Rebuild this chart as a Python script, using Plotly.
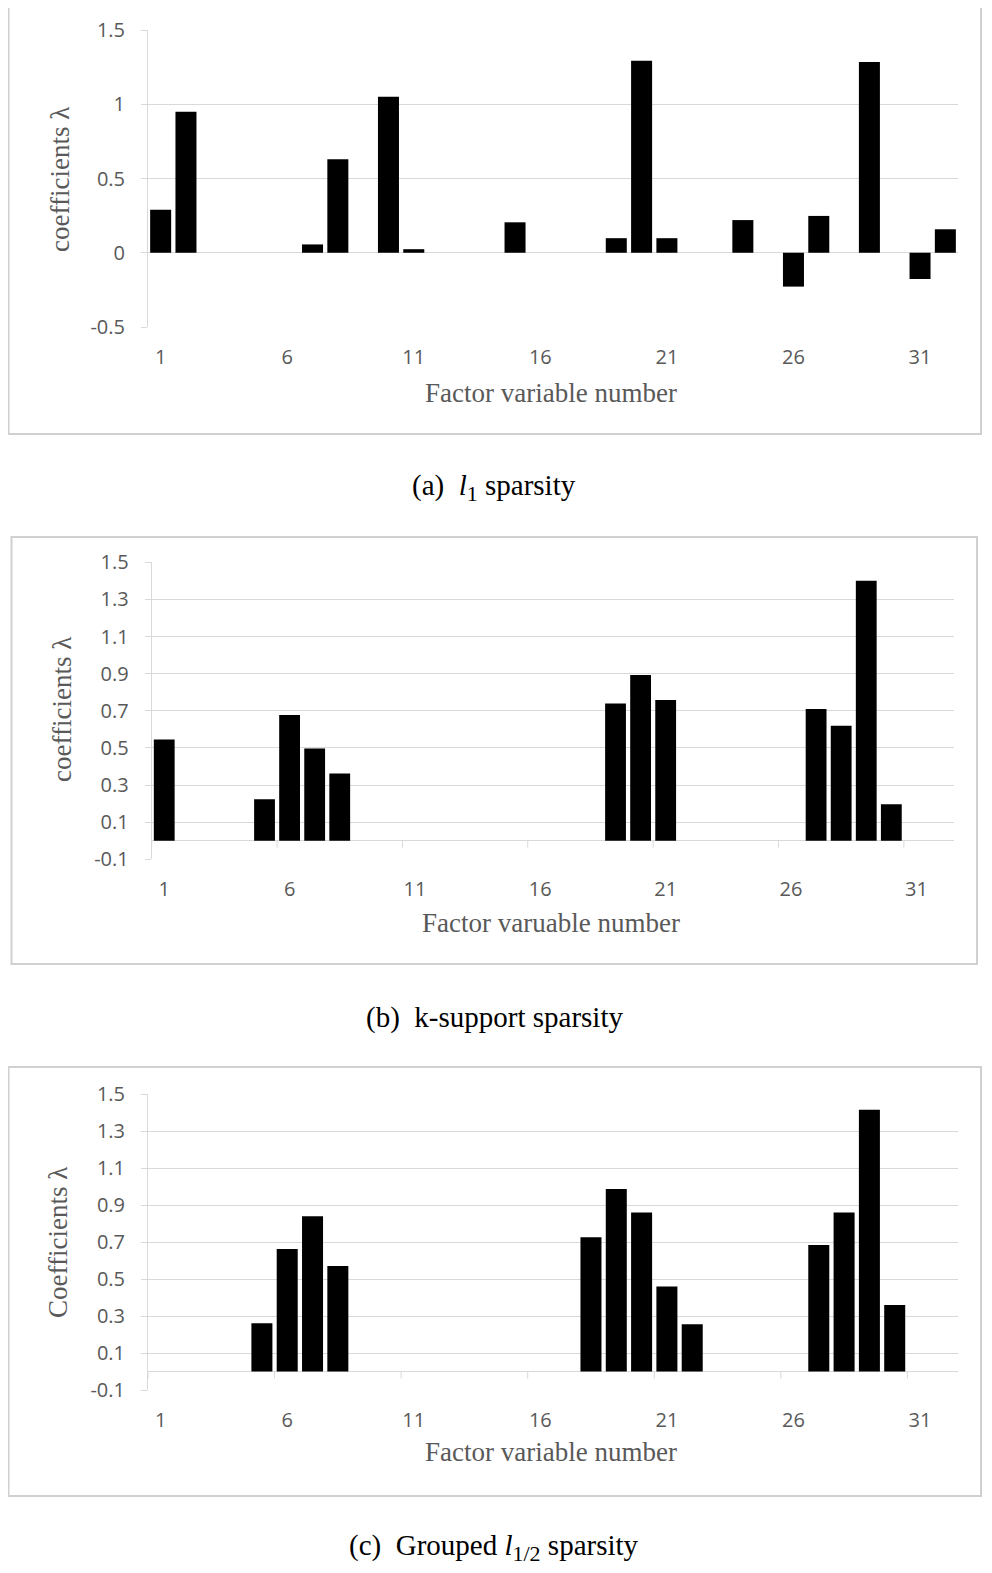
import plotly.graph_objects as go

# ---------------- data ----------------
factors = list(range(1, 33))
tick_vals = [1, 6, 11, 16, 21, 26, 31]
tick_text = ["1", "6", "11", "16", "21", "26", "31"]

# (a) l1 sparsity
coef_l1 = [0.29, 0.95, 0, 0, 0, 0, 0.056, 0.63, 0, 1.05,
           0.024, 0, 0, 0, 0.205, 0, 0, 0, 0.098, 1.293,
           0.098, 0, 0, 0.22, 0, -0.228, 0.248, 0, 1.284, 0,
           -0.177, 0.158]
# (b) k-support sparsity
coef_ks = [0.545, 0, 0, 0, 0.224, 0.677, 0.497, 0.362, 0, 0,
           0, 0, 0, 0, 0, 0, 0, 0, 0.739, 0.893,
           0.758, 0, 0, 0, 0, 0, 0.71, 0.62, 1.40, 0.197,
           0, 0]
# (c) grouped l1/2 sparsity
coef_gl = [0, 0, 0, 0, 0.261, 0.663, 0.84, 0.571, 0, 0,
           0, 0, 0, 0, 0, 0, 0, 0.727, 0.988, 0.86,
           0.46, 0.256, 0, 0, 0, 0, 0.685, 0.86, 1.416, 0.36,
           0, 0]

y_ticks_a = [-0.5, 0, 0.5, 1, 1.5]
y_ticks_bc = [-0.1, 0.1, 0.3, 0.5, 0.7, 0.9, 1.1, 1.3, 1.5]

captions = ["(a)  <i>l</i><sub><span style='font-size:22px'>1</span></sub> sparsity",
            "(b)  k-support sparsity",
            "(c)  Grouped <i>l</i><sub><span style='font-size:22px'>1/2</span></sub> sparsity"]
x_titles = ["Factor variable number", "Factor varuable number", "Factor variable number"]
y_titles = ["coefficients λ", "coefficients λ", "Coefficients λ"]

# ---------------- layout helpers ----------------
OFF = 8  # page body margin
W, H = 992 - OFF, 1573 - OFF
def px(x):
    return (x - OFF) / W
def py(y):
    return 1 - (y - OFF) / H

GRID = "#d9d9d9"
TXT = "#595959"
TICKFONT = dict(family="Open Sans, Liberation Sans, sans-serif", size=20, color=TXT)
SERIF = "Liberation Serif, Times New Roman, serif"

panels = [
    dict(x0=148, x1=958, yt=30, yb=327, yr=[-0.5, 1.5], yt_vals=y_ticks_a,
         box=(8.5, 7, 981, 434), cap=487, xt=393, ytx=60, yty=180, data=coef_l1, ticks=False),
    dict(x0=151.7, x1=954, yt=562.3, yb=859.3, yr=[-0.1, 1.5], yt_vals=y_ticks_bc,
         box=(11.5, 537, 977, 964), cap=1017, xt=923, ytx=62, yty=710, data=coef_ks, ticks=True),
    dict(x0=148, x1=958, yt=1094.3, yb=1390, yr=[-0.1, 1.5], yt_vals=y_ticks_bc,
         box=(8.5, 1067, 981, 1496), cap=1547, xt=1452, ytx=58, yty=1243, data=coef_gl, ticks=True),
]

fig = go.Figure()
layout = dict(width=W, height=H, margin=dict(l=0, r=0, t=0, b=0, autoexpand=False),
              template="none",
              paper_bgcolor="white", plot_bgcolor="white", showlegend=False,
              bargap=0.17)
shapes = []
annotations = []

for i, p in enumerate(panels):
    n = "" if i == 0 else str(i + 1)
    xa, ya = "x" + n, "y" + n
    fig.add_trace(go.Bar(x=factors, y=p["data"], xaxis=xa, yaxis=ya,
                         marker=dict(color="black", line=dict(width=0))))
    layout["xaxis" + n] = dict(domain=[px(p["x0"]), px(p["x1"])], anchor=ya,
                               range=[0.5, 32.5], tickmode="array",
                               tickvals=tick_vals, ticktext=tick_text,
                               showgrid=False, zeroline=False, showline=False,
                               ticks="", tickfont=TICKFONT, ticklabelstandoff=16,
                               automargin=False)
    ytext = [("%g" % v) if abs(v) >= 1e-9 else "0" for v in p["yt_vals"]]
    layout["yaxis" + n] = dict(domain=[py(p["yb"]), py(p["yt"])], anchor=xa,
                               range=p["yr"], tickmode="array",
                               tickvals=p["yt_vals"], ticktext=ytext,
                               showgrid=True, gridcolor=GRID, gridwidth=1,
                               zeroline=True, zerolinecolor=GRID, zerolinewidth=1,
                               showline=True, linecolor=GRID, linewidth=1,
                               ticks="outside", ticklen=6, tickcolor=GRID,
                               tickfont=TICKFONT, ticklabelstandoff=12,
                               automargin=False)
    l, t, r, b = p["box"]
    shapes.append(dict(type="rect", xref="paper", yref="paper",
                       x0=px(l), x1=px(r), y0=py(b), y1=py(t),
                       line=dict(color="#d0d0d0", width=2), layer="below"))
    if p["ticks"]:
        for bnd in [0.5, 5.5, 10.5, 15.5, 20.5, 25.5, 30.5]:
            shapes.append(dict(type="line", xref=xa, yref=ya, x0=bnd, x1=bnd,
                               ysizemode="pixel", yanchor=0, y0=0, y1=-7,
                               line=dict(color=GRID, width=1)))
    annotations.append(dict(xref="paper", yref="paper", x=px(551), y=py(p["xt"]),
                            text=x_titles[i], showarrow=False,
                            font=dict(family=SERIF, size=27, color=TXT),
                            xanchor="center", yanchor="middle"))
    annotations.append(dict(xref="paper", yref="paper", x=px(p["ytx"]), y=py(p["yty"]),
                            text=y_titles[i], showarrow=False, textangle=-90,
                            font=dict(family=SERIF, size=27, color=TXT),
                            xanchor="center", yanchor="middle"))
    annotations.append(dict(xref="paper", yref="paper", x=px(494), y=py(p["cap"]),
                            text=captions[i], showarrow=False,
                            font=dict(family=SERIF, size=29, color="black"),
                            xanchor="center", yanchor="middle"))

layout["shapes"] = shapes
layout["annotations"] = annotations
fig.update_layout(**layout)
fig.write_html("out.html")
